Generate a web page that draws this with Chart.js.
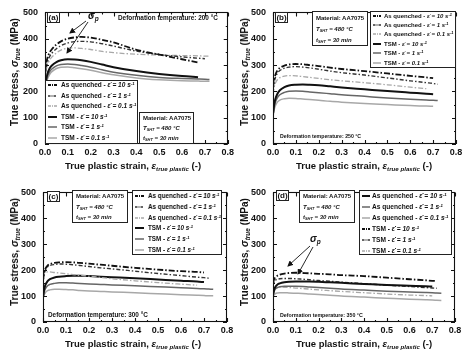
<!DOCTYPE html>
<html><head><meta charset="utf-8">
<script src="https://cdn.jsdelivr.net/npm/chart.js@4"></script>
<style>
body{margin:0;background:#fff;width:474px;height:361px;overflow:hidden;position:relative;font-family:"Liberation Sans",Arial,sans-serif;font-weight:bold;color:#111}
canvas{position:absolute}
.ov{position:absolute;white-space:nowrap;line-height:1}
.gbox{filter:grayscale(1)}
sub{font-size:65%;vertical-align:-0.3em;line-height:0}
sup{font-size:65%;vertical-align:0.5em;line-height:0}
</style></head><body>
<script>
// ---------- data ----------
const STRAIN = [0, 0.005, 0.01, 0.02, 0.03, 0.05, 0.07, 0.1, 0.13, 0.16, 0.2, 0.25, 0.3, 0.4, 0.5, 0.6, 0.67, 0.7, 0.72, 0.74];
const RATES = ['10', '1', '0.1'];
const GROUPS = ['As quenched', 'TSM'];
const TEMPERATURES = ['200', '250', '300', '350'];
const PANEL_LABELS = ['(a)', '(b)', '(c)', '(d)'];
const X_MAX = 0.8, X_STEP = 0.1, Y_MAX = 500, Y_STEP = 100;

// (a) 200 °C
const aAQ10  = [265,305,325,347,360,378,390,400,405,407,404,396,386,358,340,322,310,null,null,null];
const aAQ1   = [255,290,310,332,345,362,374,384,389,390,388,381,372,353,340,331,326,324,null,null];
const aAQ01  = [245,280,298,318,330,346,357,364,365,363,359,352,347,341,338,336,335,334,334,null];
const aTSM10 = [210,245,265,287,298,311,318,322,321,318,312,302,292,277,266,258,254,null,null,null];
const aTSM1  = [200,235,254,274,285,297,302,304,302,298,292,282,273,261,253,249,247,246,245,null];
const aTSM01 = [195,228,245,264,275,287,292,293,290,286,280,271,263,251,244,240,239,238,238,null];
// (b) 250 °C
const bAQ10  = [215,245,262,280,289,298,302,304,303,300,296,290,285,277,268,259,253,250,null,null];
const bAQ1   = [205,235,252,270,279,288,292,294,292,289,284,277,271,262,251,240,233,230,227,null];
const bAQ01  = [190,215,230,245,252,258,260,259,256,253,249,244,240,233,225,216,210,null,null,null];
const bTSM10 = [115,150,170,192,204,216,222,225,226,225,223,219,215,208,201,195,191,189,null,null];
const bTSM1  = [110,140,158,177,187,196,200,201,200,198,195,191,187,181,175,170,167,166,165,null];
const bTSM01 = [105,130,144,160,167,172,174,173,171,169,166,162,159,154,150,146,144,143,null,null];
// (c) 300 °C
const cAQ10  = [160,190,205,218,223,228,230,231,230,228,225,221,217,209,202,196,193,191,null,null];
const cAQ1   = [155,185,200,213,218,222,224,223,221,218,214,209,205,196,187,179,173,171,169,null];
const cAQ01  = [170,185,190,193,193,191,189,186,183,180,177,172,167,159,152,146,142,null,null,null];
const cTSM10 = [95,125,142,158,165,172,175,177,178,178,177,175,173,169,164,159,156,154,null,null];
const cTSM1  = [92,115,128,140,145,149,151,151,150,149,147,145,143,140,136,132,129,128,127,126];
const cTSM01 = [90,105,113,121,124,126,126,125,124,122,120,118,116,113,109,105,103,102,101,101];
// (d) 350 °C
const dAQ10  = [105,125,135,145,149,153,155,156,156,156,155,153,151,147,143,140,138,137,null,null];
const dAQ1   = [100,118,127,133,136,138,138,138,137,135,133,130,127,123,119,116,114,113,112,111];
const dAQ01  = [95,105,109,112,113,113,112,111,110,108,106,103,100,96,92,88,86,85,84,83];
const dTSM10 = [150,165,172,179,183,187,189,190,189,188,186,184,181,177,171,165,161,159,158,null];
const dTSM1  = [140,155,161,165,167,168,168,167,165,163,160,157,154,148,142,137,133,131,130,null];
const dTSM01 = [125,130,133,135,135,134,133,131,129,127,124,121,118,113,108,104,102,101,null,null];

// ---------- styles ----------
const FF = '"Liberation Sans", Arial, sans-serif';
const DD = [ {c:'#111',w:1.8,d:[6,2,1.5,2],ld:'3,1,1,1'}, {c:'#333',w:1.4,d:[4,2,1.5,2],ld:'2.5,1,1,1'}, {c:'#a8a8a8',w:1.3,d:[5,2,1.5,2],ld:'3,1,1,1'} ];
const SO = [ {c:'#111',w:2,d:[],ld:''}, {c:'#666',w:1.5,d:[],ld:''}, {c:'#a8a8a8',w:1.5,d:[],ld:''} ];

const PANELS = [
 {aq:[aAQ10,aAQ1,aAQ01], tsm:[aTSM10,aTSM1,aTSM01], aqSty:DD, tsmSty:SO, left:0, top:0, area:{l:45,r:228,t:8,b:144},
  tag:{x:47,y:12}, leg:{x:45,y:80,w:93,h:64,y0:85,dy:10.6,lx0:2,lx1:11,tx:15,fs:6.5},
  mat:{x:139,y:112,w:55,h:32,fs:6}, def:{x:118,y:18,fs:6.4},
  xt:{x:133,y:166}, yt:{x:15,y:72}},
 {aq:[bAQ10,bAQ1,bAQ01], tsm:[bTSM10,bTSM1,bTSM01], aqSty:DD, tsmSty:SO, left:237, top:0, area:{l:36,r:219,t:8,b:144},
  tag:{x:275,y:12}, leg:{x:370,y:11,w:86,h:57,y0:15.5,dy:9.4,lx0:2,lx1:10,tx:13,fs:6},
  mat:{x:312,y:11,w:56,h:35,fs:6}, def:{x:280,y:136,fs:5.2},
  xt:{x:364,y:166}, yt:{x:245,y:72}},
 {aq:[cAQ10,cAQ1,cAQ01], tsm:[cTSM10,cTSM1,cTSM01], aqSty:DD, tsmSty:SO, left:0, top:180, area:{l:43,r:227,t:7,b:142},
  tag:{x:47,y:191}, leg:{x:132,y:190,w:90,h:65,y0:196,dy:10.8,lx0:2,lx1:11,tx:15,fs:6.3},
  mat:{x:72,y:190,w:56,h:33,fs:6}, def:{x:48,y:315,fs:6.4},
  xt:{x:133,y:344}, yt:{x:15,y:252}},
 {aq:[dAQ10,dAQ1,dAQ01], tsm:[dTSM10,dTSM1,dTSM01], aqSty:SO, tsmSty:DD, left:237, top:180, area:{l:36,r:218,t:7,b:142},
  tag:{x:276,y:190}, leg:{x:359,y:190,w:93,h:65,y0:196,dy:11,lx0:2,lx1:10,tx:12,fs:6.6},
  mat:{x:299,y:190,w:56,h:33,fs:6}, def:{x:280,y:315,fs:5.3},
  xt:{x:364,y:344}, yt:{x:245,y:252}}
];

// ---------- helpers ----------
function add(parent, html, css, cls){ const d=document.createElement('div'); d.className='ov'+(cls?' '+cls:''); d.innerHTML=html; Object.assign(d.style, css); parent.appendChild(d); return d; }

const frameTicks = {
  id:'frameTicks',
  afterDraw(chart){
    const {ctx, chartArea:a, scales:{x,y}} = chart;
    ctx.save(); ctx.strokeStyle='#111'; ctx.lineWidth=1.1;
    ctx.strokeRect(Math.round(a.left)+0.5, Math.round(a.top)+0.5, Math.round(a.right-a.left)-1, Math.round(a.bottom-a.top)-1);
    ctx.beginPath();
    for(let i=0;i<=X_MAX/0.05+0.01;i++){ const px=Math.round(x.getPixelForValue(i*0.05))+0.5; const L=i%2?2:4;
      ctx.moveTo(px,a.bottom); ctx.lineTo(px,a.bottom-L); ctx.moveTo(px,a.top); ctx.lineTo(px,a.top+L); }
    for(let i=0;i<=Y_MAX/50;i++){ const py=Math.round(y.getPixelForValue(i*50))+0.5; const L=i%2?2:4;
      ctx.moveTo(a.left,py); ctx.lineTo(a.left+L,py); ctx.moveTo(a.right,py); ctx.lineTo(a.right-L,py); }
    ctx.stroke(); ctx.restore();
  }
};

function dataset(label, vals, s){
  return {label, data: STRAIN.map((x,i)=>({x, y: vals[i]})), borderColor:s.c, borderWidth:s.w, borderDash:s.d,
    pointRadius:0, fill:false, cubicInterpolationMode:'monotone', spanGaps:false};
}
const rateLabel = (g, r) => `${g} - <i>ε\u0307 = ${r} s<sup>-1</sup></i>`;

PANELS.forEach((P, pi) => {
  const cv = document.createElement('canvas');
  cv.width = 237; cv.height = 180;
  Object.assign(cv.style, {left:P.left+'px', top:P.top+'px', width:'237px', height:'180px'});
  document.body.appendChild(cv);
  const items = [];
  const datasets = [];
  RATES.forEach((r,i)=>{ datasets.push(dataset(GROUPS[0]+' '+r, P.aq[i], P.aqSty[i])); items.push({label:rateLabel(GROUPS[0], r), s:P.aqSty[i]}); });
  RATES.forEach((r,i)=>{ datasets.push(dataset(GROUPS[1]+' '+r, P.tsm[i], P.tsmSty[i])); items.push({label:rateLabel(GROUPS[1], r), s:P.tsmSty[i]}); });
  const tickFont = {family:FF, size:9, weight:'bold'};
  new Chart(cv, {
    type:'line', data:{datasets},
    options:{ responsive:false, animation:false, devicePixelRatio:1,
      layout:{padding:{top:P.area.t, right:237-P.area.r, left:0, bottom:0}},
      plugins:{legend:{display:false}, tooltip:{enabled:false}},
      scales:{
        x:{type:'linear', min:0, max:X_MAX, ticks:{stepSize:X_STEP, callback:v=>Number(v).toFixed(1), font:tickFont, color:'#111', padding:3, maxRotation:0, autoSkip:false},
           grid:{display:false, drawTicks:false, tickLength:0}, border:{display:false}, afterFit:s=>{s.height=180-P.area.b;}},
        y:{type:'linear', min:0, max:Y_MAX, ticks:{stepSize:Y_STEP, font:tickFont, color:'#111', padding:7},
           grid:{display:false, drawTicks:false, tickLength:0}, border:{display:false}, afterFit:s=>{s.width=P.area.l;}}
      }
    },
    plugins:[frameTicks]
  });

  const B = document.body;
  add(B, PANEL_LABELS[pi], {left:P.tag.x+'px', top:P.tag.y+'px', width:'13px', height:'11px', border:'1px solid #222', boxSizing:'border-box', fontSize:'8px', textAlign:'center', lineHeight:'9px', background:'#fff'}, 'gbox');
  const L = P.leg;
  const box = add(B, '', {left:L.x+'px', top:L.y+'px', width:L.w+'px', height:L.h+'px', border:'1px solid #222', boxSizing:'border-box', background:'#fff'}, 'gbox');
  items.forEach((it,i)=>{
    const cy = Math.round(L.y0 + L.dy*i - L.y - 1);
    const len = L.lx1 - L.lx0;
    box.insertAdjacentHTML('beforeend', `<svg width="${len}" height="6" style="position:absolute;left:${L.lx0}px;top:${cy-3}px;overflow:visible"><line x1="0" y1="3" x2="${len}" y2="3" stroke="${it.s.c}" stroke-width="${it.s.w}" ${it.s.ld?`stroke-dasharray="${it.s.ld}"`:''}/></svg>`);
    add(box, it.label, {left:L.tx+'px', top:(cy-4)+'px', height:'8px', lineHeight:'8px', fontSize:L.fs+'px'});
  });
  const M = P.mat;
  const mb = add(B, '', {left:M.x+'px', top:M.y+'px', width:M.w+'px', height:M.h+'px', border:'1px solid #222', boxSizing:'border-box', background:'#fff'}, 'gbox');
  const mh = (M.h-2)/3;
  ['Material: AA7075', '<i>T</i><sub><i>SHT</i></sub><i> = 480 °C</i>', '<i>t</i><sub><i>SHT</i></sub><i> = 30 min</i>'].forEach((t,i)=>{
    add(mb, t, {left:'3px', top:Math.round(mh*(i+0.5)-4)+'px', height:'8px', lineHeight:'8px', fontSize:M.fs+'px'});
  });
  add(B, `Deformation temperature: ${TEMPERATURES[pi]} °C`, {left:P.def.x+'px', top:(P.def.y-4)+'px', height:'8px', lineHeight:'8px', fontSize:P.def.fs+'px'}, 'gbox');
  add(B, 'True plastic strain, <i>ε</i><sub><i>true plastic</i></sub> (-)', {left:P.xt.x+'px', top:P.xt.y+'px', transform:'translate(-50%,-50%)', fontSize:'9.5px'});
  add(B, 'True stress, <i>σ</i><sub><i>true</i></sub> (MPa)', {left:P.yt.x+'px', top:P.yt.y+'px', transform:'translate(-50%,-50%) rotate(-90deg)', fontSize:'10px'});
});

add(document.body, '<i>σ</i><sub><i>p</i></sub>', {left:'88px', top:'11px', fontSize:'10px'});
add(document.body, '<i>σ</i><sub><i>p</i></sub>', {left:'310px', top:'234px', fontSize:'10px'});
document.body.insertAdjacentHTML('beforeend', `<svg width="474" height="361" style="position:absolute;left:0;top:0;pointer-events:none">
<defs><marker id="ah" markerWidth="6" markerHeight="6" refX="5" refY="3" orient="auto" markerUnits="userSpaceOnUse"><path d="M0,0 L6,3 L0,6 z" fill="#111"/></marker></defs>
<g stroke="#111" stroke-width="0.9" fill="none">
<line x1="86" y1="21" x2="70" y2="33" marker-end="url(#ah)"/>
<line x1="88" y1="22" x2="67" y2="53" marker-end="url(#ah)"/>
<line x1="310" y1="246" x2="288" y2="266" marker-end="url(#ah)"/>
<line x1="313" y1="247" x2="298" y2="274" marker-end="url(#ah)"/>
</g></svg>`);
</script>
</body></html>
